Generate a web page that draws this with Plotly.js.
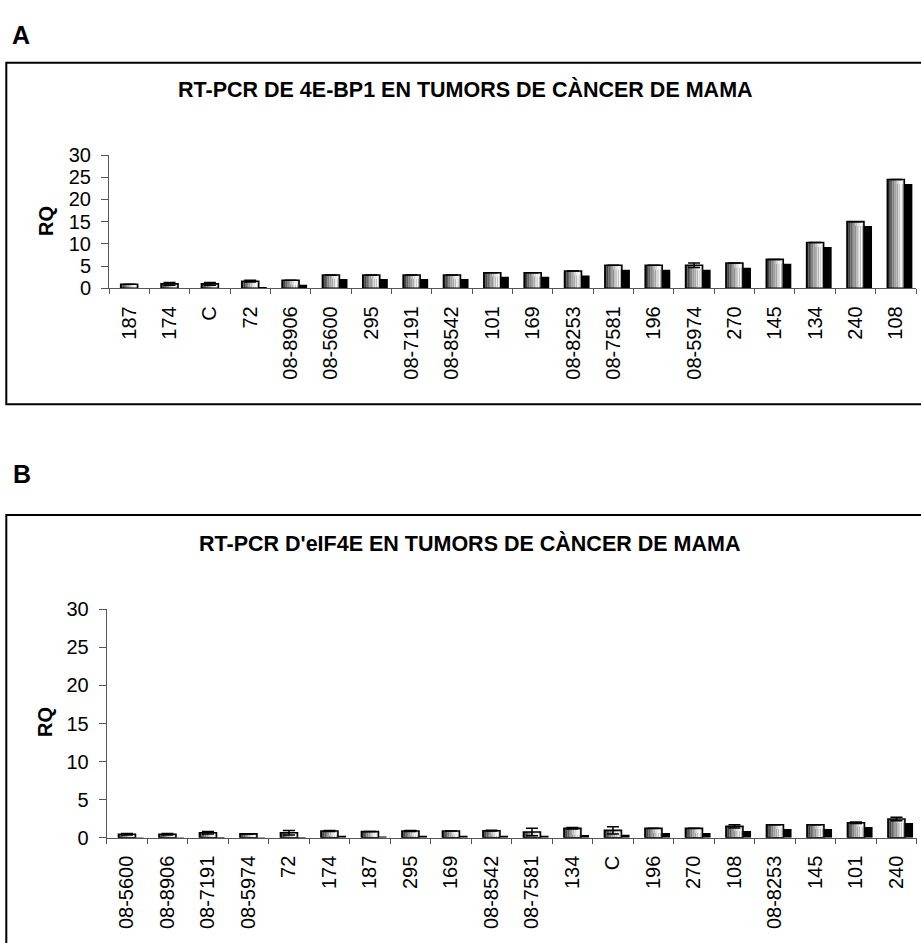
<!DOCTYPE html>
<html>
<head>
<meta charset="utf-8">
<script src="https://cdn.plot.ly/plotly-3.0.1.min.js"></script>
<style>html,body{margin:0;padding:0;background:#fff;}#chart{width:921px;height:943px;}</style>
</head>
<body>
<div id="chart"></div>
<script>
// ---- Panel A data ----
const catsA = ['187','174','C','72','08-8906','08-5600','295','08-7191','08-8542','101','169','08-8253','08-7581','196','08-5974','270','145','134','240','108'];
const valsA = [0.9,1.0,1.0,1.6,1.8,3.0,3.0,3.0,3.0,3.5,3.5,3.9,5.2,5.2,5.2,5.7,6.5,10.3,15.0,24.5];
const errA  = [0,0.3,0.3,0.2,0,0,0,0,0,0,0,0,0,0,0.5,0,0,0,0,0];
const shadowA = [0,0,0,0.3,0.8,2.1,2.1,2.1,2.1,2.6,2.6,2.9,4.2,4.2,4.2,4.6,5.5,9.3,14.0,23.5];

// ---- Panel B data ----
const catsB = ['08-5600','08-8906','08-7191','08-5974','72','174','187','295','169','08-8542','08-7581','134','C','196','270','108','08-8253','145','101','240'];
const valsB = [0.45,0.45,0.65,0.5,0.65,0.88,0.8,0.88,0.88,0.92,0.74,1.23,0.96,1.23,1.23,1.49,1.7,1.7,1.97,2.45];
const errB  = [0.1,0.1,0.15,0,0.3,0.05,0,0.05,0,0.05,0.49,0.1,0.49,0,0,0.2,0,0,0.1,0.22];
const shadowB = [0.05,0.05,0.1,0.05,0.1,0.25,0.15,0.25,0.25,0.25,0.25,0.35,0.4,0.61,0.61,0.88,1.14,1.14,1.4,1.93];

const titleA = 'RT-PCR DE 4E-BP1 EN TUMORS DE CÀNCER DE MAMA';
const titleB = "RT-PCR D'eIF4E EN TUMORS DE CÀNCER DE MAMA";

const FONT = 'Arial, "Liberation Sans", sans-serif';
const W = 921, H = 943;
const gradient = ['#2a2a2a','#474747','#646464','#828282','#a0a0a0','#bdbdbd','#d8d8d8','#ececec','#f7f7f7','#cfcfcf'];
const bw = 0.42, shift = 0.2;

function panelTraces(cats, vals, err, shadow, xa, ya) {
  const tr = [];
  tr.push({type:'bar', x:cats, y:shadow, xaxis:xa, yaxis:ya, width:bw, offset:-bw/2+shift,
           marker:{color:'#000', line:{width:0}}, hoverinfo:'skip', showlegend:false});
  const n = gradient.length, sw = bw/n;
  gradient.forEach((c,i)=>{
    tr.push({type:'bar', x:cats, y:vals, xaxis:xa, yaxis:ya, width:sw*1.05, offset:-bw/2+i*sw,
             marker:{color:c, line:{width:0}}, hoverinfo:'skip', showlegend:false});
  });
  tr.push({type:'bar', x:cats, y:vals, xaxis:xa, yaxis:ya, width:bw, offset:-bw/2,
           marker:{color:'rgba(0,0,0,0)', line:{width:1.6, color:'#000'}},
           error_y:{type:'data', array:err, visible:true, color:'#000', thickness:1.5, width:6},
           hoverinfo:'skip', showlegend:false});
  return tr;
}

const data = [].concat(
  panelTraces(catsA, valsA, errA, shadowA, 'x', 'y'),
  panelTraces(catsB, valsB, errB, shadowB, 'x2', 'y2')
);

function xAxis(cats, dom, anchor) {
  return {type:'category', categoryorder:'array', categoryarray:cats, domain:dom, anchor:anchor,
          range:[-0.5, cats.length-0.5], tickson:'boundaries', ticks:'outside', ticklen:5,
          tickcolor:'#555', tickwidth:1, showline:true, linecolor:'#555', linewidth:1,
          showgrid:false, zeroline:false, tickangle:-90, ticklabelstandoff:9,
          tickfont:{family:FONT, size:20, color:'#000'}, fixedrange:true};
}
function yAxis(dom, anchor) {
  return {range:[0,30], dtick:5, domain:dom, anchor:anchor, ticks:'outside', ticklen:7,
          tickcolor:'#555', showline:true, linecolor:'#555', linewidth:1, showgrid:false,
          zeroline:false, ticklabelstandoff:6, tickfont:{family:FONT, size:20, color:'#000'}, fixedrange:true};
}
const px = v => v/W, py = v => 1 - v/H;

const layout = {
  width:W, height:H, margin:{l:0,r:0,t:0,b:0}, paper_bgcolor:'#fff', plot_bgcolor:'rgba(0,0,0,0)',
  barmode:'overlay', showlegend:false, font:{family:FONT, color:'#000'},
  xaxis: xAxis(catsA, [px(109), px(916)], 'y'),
  yaxis: yAxis([py(288.3), py(155)], 'x'),
  xaxis2: xAxis(catsB, [px(106.7), px(916.7)], 'y2'),
  yaxis2: yAxis([py(837.7), py(609.3)], 'x2'),
  shapes:[
    {type:'rect', xref:'paper', yref:'paper', x0:px(6.3), x1:1.02, y0:py(404.3), y1:py(62.7), line:{color:'#000', width:2}},
    {type:'rect', xref:'paper', yref:'paper', x0:px(6.3), x1:1.02, y0:-0.02, y1:py(515), line:{color:'#000', width:2}}
  ],
  annotations:[
    {text:'<b>A</b>', xref:'paper', yref:'paper', x:px(21), y:py(35), xanchor:'center', yanchor:'middle', showarrow:false, font:{family:FONT, size:25}},
    {text:'<b>B</b>', xref:'paper', yref:'paper', x:px(21.7), y:py(474), xanchor:'center', yanchor:'middle', showarrow:false, font:{family:FONT, size:25}},
    {text:'<b>'+titleA+'</b>', xref:'paper', yref:'paper', x:px(465), y:py(89), xanchor:'center', yanchor:'middle', showarrow:false, font:{family:FONT, size:21.5}},
    {text:'<b>'+titleB+'</b>', xref:'paper', yref:'paper', x:px(469), y:py(543), xanchor:'center', yanchor:'middle', showarrow:false, font:{family:FONT, size:21.5}},
    {text:'<b>RQ</b>', xref:'paper', yref:'paper', x:px(46), y:py(221), xanchor:'center', yanchor:'middle', textangle:-90, showarrow:false, font:{family:FONT, size:20}},
    {text:'<b>RQ</b>', xref:'paper', yref:'paper', x:px(45), y:py(722), xanchor:'center', yanchor:'middle', textangle:-90, showarrow:false, font:{family:FONT, size:20}}
  ]
};

Plotly.newPlot('chart', data, layout, {staticPlot:true, displayModeBar:false});
</script>
</body>
</html>
